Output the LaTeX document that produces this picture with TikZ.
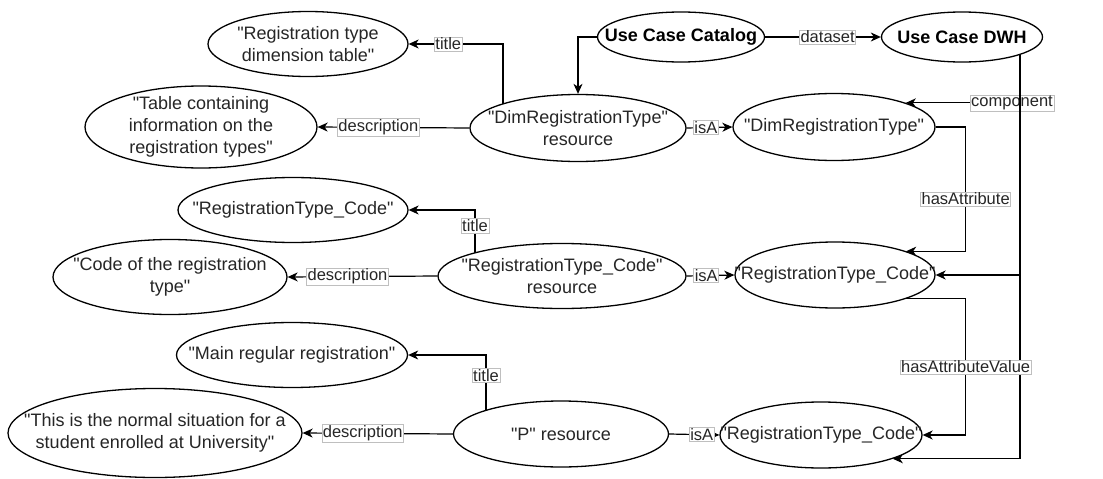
\documentclass[tikz,border=0pt]{standalone}
\usepackage{fontspec}
\setmainfont{Liberation Sans}[Ligatures=TeXOff]
\usetikzlibrary{shapes.geometric,arrows.meta,backgrounds}
\newcommand{\nodefnt}{\fontsize{18}{22}\selectfont}
\newcommand{\lblfnt}{\fontsize{16.5}{18}\selectfont}
\begin{document}
\begin{tikzpicture}[x=1pt,y=-1pt,
  oval/.style 2 args={draw, ellipse, fill=white, line width=1.3pt, inner sep=0pt,
    minimum width=#1, minimum height=#2},
  txt/.style={font=\nodefnt, align=center, text=black!85, inner sep=0pt},
  btxt/.style={font=\nodefnt\bfseries, align=center, text=black, inner sep=0pt},
  conn/.style={line width=1.2pt, -{Stealth[length=10pt,width=9pt,inset=3pt]}},
  lbl/.style={draw=black!25, line width=0.6pt, fill=white, font=\lblfnt, text=black!85, inner sep=1pt}]
\useasboundingbox (0,0) rectangle (1103,479);

% literal nodes
\node[oval={200pt}{65pt}, label={[txt]center:{"Registration type\\dimension table"}}] (t1) at (308,44) {};
\node[oval={232pt}{82pt}, label={[txt]center:{"Table containing\\information on the\\registration types"}}] (d1) at (201,127) {};
\node[oval={230pt}{65pt}, label={[txt]center:{"RegistrationType\_Code"}}] (t2) at (293,210) {};
\node[oval={234pt}{75pt}, label={[txt]center:{"Code of the registration\\type"}}] (d2) at (170,277) {};
\node[oval={231pt}{65pt}, label={[txt]center:{"Main regular registration"}}] (t3) at (292,355) {};
\node[oval={294pt}{89pt}, label={[txt]center:{"This is the normal situation for a\\student enrolled at University"}}] (d3) at (155,433) {};

% resources
\node[oval={216pt}{67pt}, label={[txt]center:{"DimRegistrationType"\\resource}}] (dimres) at (578,128) {};
\node[oval={248pt}{65pt}, label={[txt]center:{"RegistrationType\_Code"\\resource}}] (rtres) at (562,276) {};
\node[oval={215pt}{66pt}, label={[txt]center:{"P" resource}}] (pres) at (561,434) {};

% catalog / dwh
\node[oval={167pt}{50pt}, label={[btxt]center:{Use Case Catalog}}] (cat) at (681,37) {};
\node[oval={161pt}{50pt}, label={[btxt]center:{Use Case DWH}}] (dwh) at (962,37) {};

% classes
\node[oval={202pt}{67pt}, label={[txt]center:{"DimRegistrationType"}}] (dimcls) at (834,127) {};
\node[oval={200pt}{66pt}, label={[txt]center:{"RegistrationType\_Code"}}] (midcls) at (835,275) {};
\node[oval={202pt}{66pt}, label={[txt]center:{"RegistrationType\_Code"}}] (botcls) at (821,435) {};

\begin{pgfonlayer}{background}
% top group
\draw[conn] ([xshift=-75pt]dimres.center) |- node[lbl, pos=0.79] {title} (t1.east);
\draw[conn] (dimres.west) -- node[lbl, pos=0.6] {description} (d1.east);
\draw[conn] (cat.west) -| (dimres.north);
\draw[conn] (cat.east) -- node[lbl, pos=0.54] {dataset} (dwh.west);
\draw[conn] (dimres.east) -- node[lbl, pos=0.42] {isA} (dimcls.west);
% component edges
\draw[conn] ([xshift=58pt]dwh.center) |- node[lbl, pos=0.535] {component} (dimcls.north east);
\draw[conn] ([xshift=58pt]dwh.center) |- (midcls.east);
\draw[conn] ([xshift=58pt]dwh.center) |- (botcls.south east);
% hasAttribute
\draw[conn] (dimcls.east) -- ++(30,0) |- node[lbl, pos=0.29] {hasAttribute} (midcls.north east);
\draw[conn] (midcls.south east) -| ([xshift=30pt]midcls.east |- botcls.east) node[lbl, pos=0.75] {hasAttributeValue} -- (botcls.east);
% middle group
\draw[conn] ([xshift=-87pt]rtres.center) |- node[lbl, pos=0.38] {title} (t2.east);
\draw[conn] (rtres.west) -- node[lbl, pos=0.6] {description} (d2.east);
\draw[conn] (rtres.east) -- node[lbl, pos=0.41] {isA} (midcls.west);
% bottom group
\draw[conn] ([xshift=-75pt]pres.center) |- node[lbl, pos=0.37] {title} (t3.east);
\draw[conn] (pres.west) -- node[lbl, pos=0.6] {description} (d3.east);
\draw[conn] (pres.east) -- node[lbl, pos=0.65] {isA} (botcls.west);
\end{pgfonlayer}
\end{tikzpicture}
\end{document}
